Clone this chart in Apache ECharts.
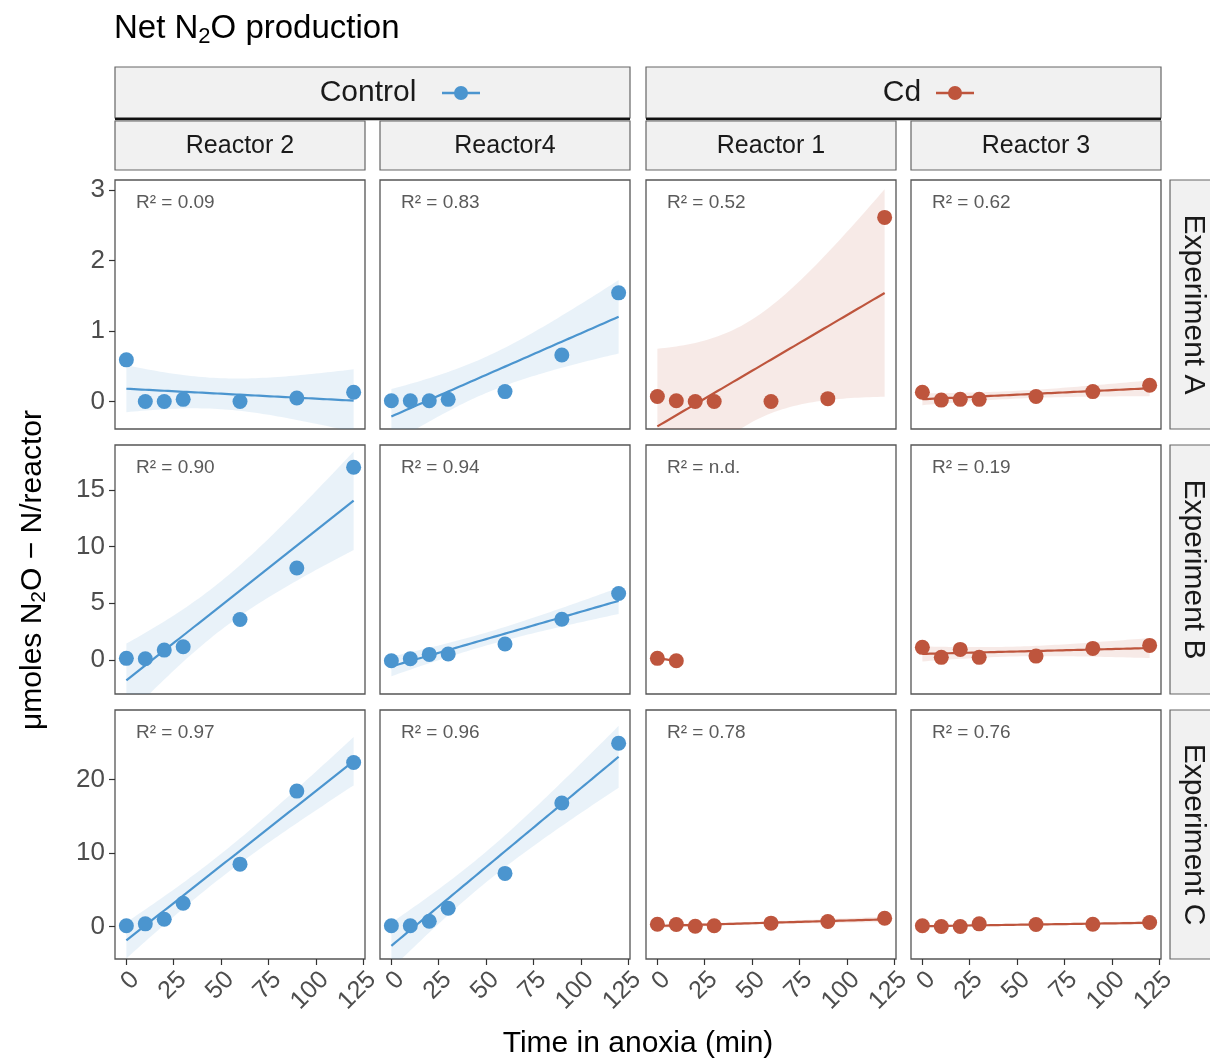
<!DOCTYPE html>
<html>
<head>
<meta charset="utf-8">
<script src="https://cdn.jsdelivr.net/npm/echarts@6/dist/echarts.min.js"></script>
<style>html,body{margin:0;padding:0;background:#fff}#chart{width:1210px;height:1058px}</style>
</head>
<body>
<div id="chart"></div>
<script>
// ---------------- DATA ----------------
const times = [0, 10, 20, 30, 60, 90, 120];
const timesShort = [0, 10];
const groups = ['Control', 'Cd'];
const reactors = ['Reactor 2', 'Reactor4', 'Reactor 1', 'Reactor 3'];
const experiments = ['Experiment A', 'Experiment B', 'Experiment C'];

// Experiment A
const reactor2_A = [0.59, 0.00, 0.00, 0.03, 0.00, 0.05, 0.13];
const reactor4_A = [0.01, 0.01, 0.01, 0.03, 0.14, 0.66, 1.54];
const reactor1_A = [0.07, 0.01, 0.00, 0.00, 0.00, 0.04, 2.61];
const reactor3_A = [0.13, 0.02, 0.03, 0.03, 0.07, 0.14, 0.23];
// Experiment B
const reactor2_B = [0.15, 0.12, 0.88, 1.17, 3.57, 8.11, 16.99];
const reactor4_B = [-0.06, 0.12, 0.50, 0.53, 1.41, 3.60, 5.86];
const reactor1_B = [0.15, -0.06];
const reactor3_B = [1.12, 0.24, 0.94, 0.24, 0.35, 1.03, 1.29];
// Experiment C
const reactor2_C = [0.10, 0.37, 1.00, 3.17, 8.50, 18.45, 22.35];
const reactor4_C = [0.10, 0.10, 0.73, 2.50, 7.24, 16.83, 24.97];
const reactor1_C = [0.32, 0.28, 0.05, 0.10, 0.46, 0.68, 1.13];
const reactor3_C = [0.10, 0.00, 0.00, 0.37, 0.28, 0.32, 0.55];

const r2_A = ['0.09', '0.83', '0.52', '0.62'];
const r2_B = ['0.90', '0.94', 'n.d.', '0.19'];
const r2_C = ['0.97', '0.96', '0.78', '0.76'];

const xTicks = [0, 25, 50, 75, 100, 125];
const yTicks_A = [0, 1, 2, 3];
const yTicks_B = [0, 5, 10, 15];
const yTicks_C = [0, 10, 20];

// ---------------- STYLE / LAYOUT ----------------
const BLUE = '#4B95CF', RED = '#BE553D';
const FONT = "'Liberation Sans', Arial, Helvetica, sans-serif";
const colLeft = [115, 380, 646, 911];
const rowTop = [180, 445, 710];
const PW = 250, PH = 249;
const xRange = [-6, 126];
const yRanges = [[-0.39, 3.14], [-2.99, 18.95], [-4.42, 29.5]];

const panelData = [
  [[times, reactor2_A], [times, reactor4_A], [times, reactor1_A], [times, reactor3_A]],
  [[times, reactor2_B], [times, reactor4_B], [timesShort, reactor1_B], [times, reactor3_B]],
  [[times, reactor2_C], [times, reactor4_C], [times, reactor1_C], [times, reactor3_C]]
];
const r2Rows = [r2_A, r2_B, r2_C];
const yTickRows = [yTicks_A, yTicks_B, yTicks_C];
const colColor = [BLUE, BLUE, RED, RED];

// linear model fit with 95% confidence band (as geom_smooth(method='lm'))
const T_975 = {1: 12.706, 2: 4.303, 3: 3.182, 4: 2.776, 5: 2.571, 6: 2.447};
function lmFit(xs, ys) {
  const n = xs.length;
  const xb = xs.reduce((a, b) => a + b, 0) / n;
  const yb = ys.reduce((a, b) => a + b, 0) / n;
  let sxx = 0, sxy = 0;
  for (let i = 0; i < n; i++) { sxx += (xs[i] - xb) ** 2; sxy += (xs[i] - xb) * (ys[i] - yb); }
  const b = sxy / sxx, a = yb - b * xb;
  let sse = 0;
  for (let i = 0; i < n; i++) sse += (ys[i] - a - b * xs[i]) ** 2;
  const df = n - 2;
  const s = df > 0 ? Math.sqrt(sse / df) : 0;
  const xmin = Math.min(...xs), xmax = Math.max(...xs);
  const line = [], upper = [], lower = [];
  const steps = 60;
  for (let k = 0; k <= steps; k++) {
    const x = xmin + (xmax - xmin) * k / steps;
    const yhat = a + b * x;
    line.push([x, yhat]);
    if (df > 0) {
      const se = s * Math.sqrt(1 / n + (x - xb) ** 2 / sxx);
      upper.push([x, yhat + T_975[df] * se]);
      lower.push([x, yhat - T_975[df] * se]);
    }
  }
  return { line, upper, lower, hasBand: df > 0 };
}

const grids = [], xAxes = [], yAxes = [], series = [], graphics = [];
let idx = 0;
for (let r = 0; r < 3; r++) {
  for (let c = 0; c < 4; c++) {
    grids.push({ left: colLeft[c], top: rowTop[r], width: PW, height: PH, show: true,
      borderColor: '#555', borderWidth: 1.3, backgroundColor: '#fff', containLabel: false });
    const bottom = r === 2, left = c === 0;
    xAxes.push({ type: 'value', gridIndex: idx, min: xRange[0], max: xRange[1], position: 'bottom',
      axisLine: { show: false, onZero: false }, splitLine: { show: false },
      axisTick: { show: bottom, length: 6, lineStyle: { color: '#333', width: 1.2 }, customValues: xTicks },
      axisLabel: { show: bottom, customValues: xTicks, rotate: 45, margin: 8, align: 'right', verticalAlign: 'top',
        fontSize: 25, color: '#4d4d4d', fontFamily: FONT }
    });
    yAxes.push({ type: 'value', gridIndex: idx, min: yRanges[r][0], max: yRanges[r][1], position: 'left',
      axisLine: { show: false, onZero: false }, splitLine: { show: false },
      axisTick: { show: left, length: 6, lineStyle: { color: '#333', width: 1.2 }, customValues: yTickRows[r] },
      axisLabel: { show: left, customValues: yTickRows[r], margin: 10, fontSize: 26, color: '#4d4d4d', fontFamily: FONT }
    });
    const [xs, ys] = panelData[r][c];
    const col = colColor[c];
    const fit = lmFit(xs, ys);
    if (fit.hasBand) {
      const up = fit.upper, lo = fit.lower;
      series.push({ type: 'custom', xAxisIndex: idx, yAxisIndex: idx, silent: true, z: 1,
        data: [[0, 0]],
        renderItem: function (params, api) {
          const pts = up.map(p => api.coord(p)).concat(lo.slice().reverse().map(p => api.coord(p)));
          const cs = params.coordSys;
          return { type: 'group', clipPath: { type: 'rect', shape: { x: cs.x, y: cs.y, width: cs.width, height: cs.height } },
            children: [{ type: 'polygon', shape: { points: pts }, style: { fill: col, opacity: 0.12 } }] };
        }
      });
    }
    series.push({ type: 'line', xAxisIndex: idx, yAxisIndex: idx, data: fit.line, showSymbol: false, silent: true, z: 2,
      lineStyle: { color: col, width: 2.2 } });
    series.push({ type: 'scatter', xAxisIndex: idx, yAxisIndex: idx, data: xs.map((x, i) => [x, ys[i]]),
      symbolSize: 15, z: 3, itemStyle: { color: col, opacity: 1 } });
    graphics.push({ type: 'text', left: colLeft[c] + 21, top: rowTop[r] + 13,
      style: { text: 'R² = ' + r2Rows[r][c], fontSize: 19, fill: '#5a5a5a', fontFamily: FONT } });
    idx++;
  }
}

// strips
const stripFill = '#f1f1f1', stripBorder = '#666';
// top group strips
[[115, 'Control', BLUE, 368, 461], [646, 'Cd', RED, 902, 955]].forEach(([x0, label, color, tx, kx]) => {
  graphics.push({ type: 'rect', shape: { x: x0, y: 67, width: 515, height: 51 }, style: { fill: stripFill, stroke: stripBorder, lineWidth: 1.2 } });
  graphics.push({ type: 'line', shape: { x1: x0, y1: 119, x2: x0 + 515, y2: 119 }, style: { stroke: '#111', lineWidth: 2.5 } });
  graphics.push({ type: 'text', x: tx, y: 93, style: { text: label, fontSize: 30, fill: '#1a1a1a', fontFamily: FONT, align: 'center', verticalAlign: 'middle' } });
  graphics.push({ type: 'line', shape: { x1: kx - 19, y1: 93, x2: kx + 19, y2: 93 }, style: { stroke: color, lineWidth: 2.5 } });
  graphics.push({ type: 'circle', shape: { cx: kx, cy: 93, r: 7 }, style: { fill: color } });
});
// reactor strips
reactors.forEach((name, c) => {
  graphics.push({ type: 'rect', shape: { x: colLeft[c], y: 121, width: PW, height: 49 }, style: { fill: stripFill, stroke: stripBorder, lineWidth: 1.2 } });
  graphics.push({ type: 'text', x: colLeft[c] + PW / 2, y: 146, style: { text: name, fontSize: 25, fill: '#1a1a1a', fontFamily: FONT, align: 'center', verticalAlign: 'middle' } });
});
// experiment strips
experiments.forEach((name, r) => {
  graphics.push({ type: 'rect', shape: { x: 1170, y: rowTop[r], width: 60, height: PH }, style: { fill: stripFill, stroke: stripBorder, lineWidth: 1.2 } });
  graphics.push({ type: 'text', x: 1193, y: rowTop[r] + PH / 2, rotation: -Math.PI / 2,
    style: { text: name, fontSize: 30, fill: '#1a1a1a', fontFamily: FONT, align: 'center', verticalAlign: 'middle' } });
});
// axis titles
graphics.push({ type: 'text', x: 638, y: 1044, style: { text: 'Time in anoxia (min)', fontSize: 30, fill: '#000', fontFamily: FONT, align: 'center', verticalAlign: 'middle' } });
graphics.push({ type: 'text', x: 33, y: 570, rotation: Math.PI / 2,
  style: { text: '{a|μmoles N}{s|2}{a|O − N/reactor}', align: 'center', verticalAlign: 'middle', fill: '#000', fontFamily: FONT,
    rich: { a: { fontSize: 30, lineHeight: 34, fontFamily: FONT, fill: '#000' }, s: { fontSize: 21, lineHeight: 21, verticalAlign: 'bottom', fontFamily: FONT, fill: '#000' } } } });
// title
graphics.push({ type: 'text', x: 114, y: 29,
  style: { text: '{a|Net N}{s|2}{a|O production}', align: 'left', verticalAlign: 'middle', fill: '#000', fontFamily: FONT,
    rich: { a: { fontSize: 33, lineHeight: 37, fontFamily: FONT, fill: '#000' }, s: { fontSize: 22, lineHeight: 22, verticalAlign: 'bottom', fontFamily: FONT, fill: '#000' } } } });

const chart = echarts.init(document.getElementById('chart'), null, { renderer: 'canvas' });
chart.setOption({
  animation: false,
  backgroundColor: '#fff',
  grid: grids, xAxis: xAxes, yAxis: yAxes, series: series,
  graphic: { elements: graphics }
});
</script>
</body>
</html>
